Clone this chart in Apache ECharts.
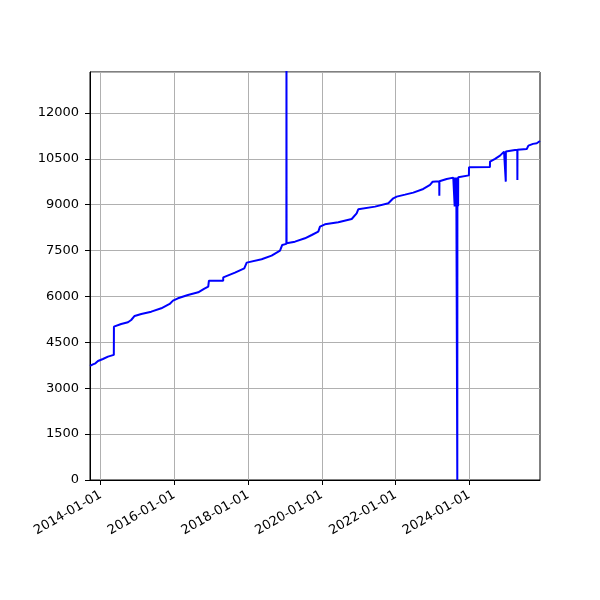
<!DOCTYPE html>
<html>
<head>
<meta charset="utf-8">
<script src="https://cdn.jsdelivr.net/npm/echarts@6/dist/echarts.min.js"></script>
<style>html,body{margin:0;padding:0;background:#fff;}#c{width:600px;height:600px;}</style>
</head>
<body>
<div id="c"></div>
<script>
// Data: dates and values along the line
const dates = [
  "2013-09-18","2013-10-17","2013-11-11","2013-12-06","2014-01-24","2014-03-15","2014-05-12",
  "2014-05-13","2014-07-24","2014-09-29","2014-10-31","2014-12-04","2015-02-08","2015-05-18",
  "2015-08-25","2015-11-16","2015-12-19","2016-02-06","2016-05-15","2016-08-25","2016-10-21",
  "2016-12-02","2016-12-08","2016-12-09","2017-04-29","2017-04-30","2017-08-24","2017-11-24",
  "2017-12-18","2018-05-15","2018-08-22","2018-11-13","2018-12-05","2019-01-15","2019-01-16",
  "2019-01-17","2019-04-10","2019-07-18","2019-09-23","2019-11-27","2019-12-14","2020-02-01",
  "2020-06-12","2020-10-23","2020-12-11","2020-12-27","2021-06-11","2021-10-21","2021-12-09",
  "2022-01-12","2022-04-04","2022-06-25","2022-10-02","2022-12-08","2023-01-03","2023-03-09",
  "2023-03-10","2023-03-11","2023-05-22","2023-07-26","2023-08-08","2023-08-09","2023-08-10",
  "2023-08-16","2023-08-17","2023-08-24","2023-08-25","2023-09-04","2023-09-05","2023-09-12",
  "2023-09-13","2023-10-01","2023-12-28","2023-12-29","2024-07-23","2024-07-24","2024-09-12",
  "2024-10-31","2024-12-10","2024-12-26","2024-12-27","2024-12-28","2025-03-29","2025-04-20",
  "2025-04-21","2025-04-22","2025-07-23","2025-08-08","2025-09-23","2025-10-30","2025-12-01"
];
const values = [
  3728,3780,3815,3891,3957,4033,4090,
  5013,5101,5156,5232,5363,5428,5504,
  5614,5755,5864,5941,6050,6137,6250,
  6322,6330,6518,6518,6627,6780,6922,
  7107,7216,7336,7499,7685,7720,14500,
  7740,7793,7903,8011,8120,8283,8360,
  8425,8534,8720,8851,8938,9047,9211,
  9265,9330,9396,9516,9647,9755,9765,
  9298,9770,9843,9886,9888,8940,9890,
  8960,9890,8940,9890,0,9890,8950,
  9900,9941,9960,10225,10230,10410,10497,
  10605,10736,10736,9755,10740,10791,10791,
  9810,10795,10824,10932,10990,11010,11085
];
const xTickLabels = ["2014-01-01","2016-01-01","2018-01-01","2020-01-01","2022-01-01","2024-01-01"];
const xRange = ["2013-09-18","2025-12-01"];
const yMin = 0, yMax = 13340, yStep = 1500;

const ts = s => { const p = s.split("-").map(Number); return Date.UTC(p[0], p[1]-1, p[2]); };
const pad = n => (n < 10 ? "0" : "") + n;
const fmt = v => { const d = new Date(v); return d.getUTCFullYear() + "-" + pad(d.getUTCMonth()+1) + "-" + pad(d.getUTCDate()); };
const seriesData = dates.map((d, i) => [ts(d), values[i]]);
const tickVals = xTickLabels.map(ts);

const chart = echarts.init(document.getElementById("c"), null, {renderer: "canvas"});
chart.setOption({
  animation: false,
  backgroundColor: "#fff",
  grid: {left: 90, right: 60, top: 72, bottom: 120, show: true, borderColor: "#000", borderWidth: 1, backgroundColor: "transparent", containLabel: false},
  xAxis: {
    type: "value",
    scale: true,
    min: ts(xRange[0]), max: ts(xRange[1]),
    axisLine: {show: true, onZero: false, lineStyle: {color: "#000", width: 1}},
    axisTick: {show: true, inside: false, length: 5, lineStyle: {color: "#000", width: 1}, customValues: tickVals},
    axisLabel: {show: true, customValues: tickVals, formatter: v => fmt(v), rotate: 30, margin: 14,
      color: "#000", fontSize: 13, fontFamily: "DejaVu Sans", hideOverlap: false},
    splitLine: {show: true, lineStyle: {color: "#b0b0b0", width: 1}}
  },
  yAxis: {
    type: "value",
    min: yMin, max: yMax, interval: yStep,
    axisLine: {show: true, lineStyle: {color: "#000", width: 1}},
    axisTick: {show: true, inside: false, length: 5, lineStyle: {color: "#000", width: 1}},
    axisLabel: {show: true, showMaxLabel: false, margin: 11, formatter: v => String(v),
      color: "#000", fontSize: 13, fontFamily: "DejaVu Sans"},
    splitLine: {show: true, lineStyle: {color: "#b0b0b0", width: 1}}
  },
  series: [{
    type: "line",
    data: seriesData,
    showSymbol: false,
    symbol: "none",
    clip: true,
    lineStyle: {color: "#0000ff", width: 2},
    itemStyle: {color: "#0000ff"}
  }]
});
</script>
</body>
</html>
